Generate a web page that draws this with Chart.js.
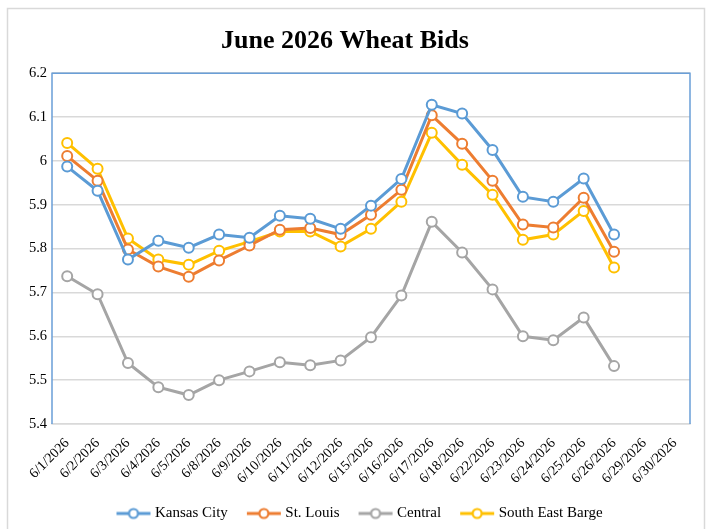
<!DOCTYPE html>
<html>
<head>
<meta charset="utf-8">
<script src="https://cdn.jsdelivr.net/npm/chart.js@4/dist/chart.umd.min.js"></script>
<style>
  html, body { margin: 0; padding: 0; background: #fff; }
  #wrap { width: 709px; height: 529px; }
</style>
</head>
<body>
<div id="wrap"><canvas id="wheatChart" width="709" height="529"></canvas></div>
<script>
// June 2026 wheat bids, $/bu
const dates = ['6/1/2026', '6/2/2026', '6/3/2026', '6/4/2026', '6/5/2026', '6/8/2026', '6/9/2026',
    '6/10/2026', '6/11/2026', '6/12/2026', '6/15/2026', '6/16/2026', '6/17/2026', '6/18/2026',
    '6/22/2026', '6/23/2026', '6/24/2026', '6/25/2026', '6/26/2026', '6/29/2026', '6/30/2026'];

const kansasCity = [5.987, 5.932, 5.775, 5.818, 5.802, 5.832, 5.825, 5.875, 5.868, 5.845,
    5.898, 5.959, 6.128, 6.108, 6.025, 5.918, 5.907, 5.960, 5.832, null, null];
const stLouis = [6.011, 5.955, 5.798, 5.759, 5.736, 5.773, 5.807, 5.843, 5.847, 5.832,
    5.877, 5.934, 6.104, 6.039, 5.955, 5.855, 5.848, 5.916, 5.793, null, null];
const central = [5.737, 5.696, 5.539, 5.484, 5.466, 5.500, 5.520, 5.541, 5.534, 5.545,
    5.598, 5.693, 5.861, 5.791, 5.707, 5.600, 5.591, 5.643, 5.532, null, null];
const seBarge = [6.041, 5.982, 5.823, 5.775, 5.763, 5.795, 5.816, 5.839, 5.839, 5.805,
    5.845, 5.907, 6.064, 5.991, 5.923, 5.820, 5.832, 5.886, 5.757, null, null];

const yTicks = [5.4, 5.5, 5.6, 5.7, 5.8, 5.9, 6, 6.1, 6.2];

const serif = '"Liberation Serif", "Times New Roman", serif';

// legend swatch: line with an open circle in the middle (Excel style)
function swatch(color) {
    const c = document.createElement('canvas');
    c.width = 36; c.height = 14;
    const g = c.getContext('2d');
    g.strokeStyle = color;
    g.lineWidth = 3;
    g.beginPath(); g.moveTo(1, 7); g.lineTo(35, 7); g.stroke();
    g.fillStyle = '#fff';
    g.lineWidth = 2.2;
    g.beginPath(); g.arc(18, 7, 4.5, 0, Math.PI * 2); g.fill(); g.stroke();
    return c;
}

function series(label, data, color) {
    return {
        label: label,
        data: data,
        borderColor: color,
        backgroundColor: '#fff',
        borderWidth: 3,
        pointRadius: 5,
        pointHoverRadius: 5,
        pointBorderWidth: 2,
        pointBackgroundColor: '#fff',
        pointBorderColor: color,
        pointStyle: 'circle',
        tension: 0,
        spanGaps: false,
        legendIcon: swatch(color)
    };
}

// outer frame + blue plot border, legend nudged to the right like the original
const frames = {
    id: 'frames',
    afterLayout(chart) {
        chart.legend.left += 16;
        chart.legend.right += 16;
    },
    afterDraw(chart) {
        const ctx = chart.ctx;
        const a = chart.chartArea;
        ctx.save();
        ctx.strokeStyle = '#d9d9d9';
        ctx.lineWidth = 1.5;
        ctx.beginPath();
        ctx.moveTo(7.5, 529); ctx.lineTo(7.5, 8.5); ctx.lineTo(704.5, 8.5); ctx.lineTo(704.5, 529);
        ctx.stroke();
        ctx.strokeStyle = '#6a9fd8';
        ctx.lineWidth = 1.5;
        ctx.beginPath();
        ctx.moveTo(a.left, a.bottom); ctx.lineTo(a.left, a.top); ctx.lineTo(a.right, a.top); ctx.lineTo(a.right, a.bottom);
        ctx.stroke();
        ctx.restore();
    }
};

const ctx = document.getElementById('wheatChart').getContext('2d');
const wheatChart = new Chart(ctx, {
    type: 'line',
    data: {
        labels: dates,
        datasets: [
            series('Kansas City', kansasCity, '#5b9bd5'),
            series('St. Louis', stLouis, '#ed7d31'),
            series('Central', central, '#a5a5a5'),
            series('South East Barge', seBarge, '#ffc000')
        ]
    },
    options: {
        responsive: false,
        animation: false,
        layout: { padding: { left: 0, right: 19, top: 0, bottom: -2 } },
        plugins: {
            title: {
                display: true,
                text: 'June 2026 Wheat Bids',
                color: '#000',
                font: { family: serif, size: 26, weight: 'bold' },
                padding: { top: 26, bottom: 16 }
            },
            legend: {
                display: true,
                position: 'bottom',
                labels: {
                    color: '#000',
                    font: { family: serif, size: 15 },
                    usePointStyle: true,
                    pointStyleWidth: 28,
                    padding: 22,
                    generateLabels(chart) {
                        return chart.data.datasets.map((ds, i) => ({
                            text: ds.label,
                            pointStyle: ds.legendIcon,
                            fillStyle: '#fff',
                            strokeStyle: ds.borderColor,
                            lineWidth: 0,
                            hidden: false,
                            datasetIndex: i,
                            fontColor: '#000'
                        }));
                    }
                }
            },
            tooltip: { enabled: false }
        },
        scales: {
            x: {
                offset: true,
                grid: { display: false, drawTicks: false },
                border: { display: true, color: '#d9d9d9', width: 1.5 },
                ticks: {
                    color: '#000',
                    font: { family: serif, size: 14 },
                    maxRotation: 45,
                    minRotation: 45,
                    autoSkip: false,
                    padding: 11
                },
                afterFit(scale) {
                    scale.height = 60;
                }
            },
            y: {
                min: 5.4,
                max: 6.2,
                afterBuildTicks(scale) {
                    scale.ticks = yTicks.map(v => ({ value: v }));
                },
                afterFit(scale) {
                    scale.width = 52;
                },
                grid: { color: '#d9d9d9', lineWidth: 1.5, drawTicks: false },
                border: { display: false },
                ticks: {
                    color: '#000',
                    font: { family: serif, size: 14.5 },
                    padding: 5,
                    callback: v => String(Math.round(v * 10) / 10)
                }
            }
        }
    },
    plugins: [frames]
});
</script>
</body>
</html>
